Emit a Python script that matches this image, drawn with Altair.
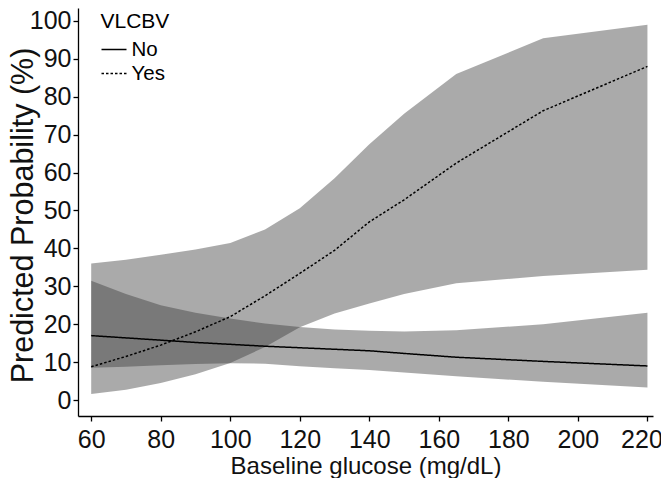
import altair as alt
import pandas as pd

glucose = [60, 70, 80, 90, 100, 110, 120, 130, 140, 150, 165, 190, 220]

no_fit = [17.0, 16.4, 15.8, 15.2, 14.7, 14.2, 13.8, 13.4, 13.0, 12.3, 11.3, 10.2, 9.0]
no_low = [8.5, 8.8, 9.2, 9.5, 9.7, 9.6, 8.9, 8.4, 7.9, 7.3, 6.3, 4.8, 3.3]
no_up = [31.5, 28.0, 25.0, 23.0, 21.5, 20.2, 19.3, 18.6, 18.3, 18.1, 18.4, 20.0, 23.0]

yes_fit = [8.8, 11.5, 14.5, 18.0, 22.0, 27.5, 33.4, 39.5, 47.0, 52.8, 62.5, 76.3, 88.0]
yes_low = [1.6, 2.7, 4.5, 6.8, 9.8, 14.0, 19.2, 22.8, 25.5, 28.0, 30.8, 32.7, 34.4]
yes_up = [36.0, 37.0, 38.3, 39.7, 41.4, 45.0, 50.6, 58.5, 67.5, 75.5, 86.0, 95.4, 99.0]

groups = ["No", "Yes"]

rows = []
for g, fit, lo, up in [("No", no_fit, no_low, no_up), ("Yes", yes_fit, yes_low, yes_up)]:
    for x, f, l, u in zip(glucose, fit, lo, up):
        rows.append({"glucose": x, "VLCBV": g, "fit": f, "lower": l, "upper": u})
df = pd.DataFrame(rows)

FONT = "Liberation Sans"

xscale = alt.Scale(domain=[56.2, 221.6], nice=False, zero=False)
yscale = alt.Scale(domain=[-4.2, 103.4], nice=False, zero=False)

xaxis = alt.Axis(
    title="Baseline glucose (mg/dL)",
    values=[60, 80, 100, 120, 140, 160, 180, 200, 220],
    labelFlush=False, labelOverlap=False, labelPadding=6,
    labelOffset={"condition": {"test": "datum.value == 220", "value": -6}, "value": 0},
    titleY=57, titleBaseline="alphabetic", titleFontSize=24,
)
yaxis = alt.Axis(
    title="Predicted Probability (%)",
    values=list(range(0, 101, 10)),
    labelFlush=False, labelOverlap=False, labelPadding=2,
    titleX=-46, titleY=207, titleAngle=270, titleBaseline="alphabetic",
    titleAlign="center", titleFontSize=30.5,
)

base = alt.Chart(df)

bands = base.mark_area(color="#3b3b3b", opacity=0.43).encode(
    x=alt.X("glucose:Q", scale=xscale, axis=xaxis),
    y=alt.Y("lower:Q", scale=yscale, axis=yaxis),
    y2="upper:Q",
    detail="VLCBV:N",
)

lines = base.mark_line(color="black", strokeWidth=1.5).encode(
    x=alt.X("glucose:Q", scale=xscale),
    y=alt.Y("fit:Q", scale=yscale),
    strokeDash=alt.StrokeDash(
        "VLCBV:N",
        scale=alt.Scale(domain=groups, range=[[1, 0], [2.5, 2]]),
        legend=alt.Legend(
            title="VLCBV", orient="none", legendX=22.5, legendY=3,
            titleFont=FONT, titleFontSize=21, titleFontWeight="normal", titleColor="black",
            titlePadding=4,
            labelFont=FONT, labelFontSize=20.5, labelColor="black", labelOffset=4,
            symbolType="stroke", symbolSize=625, symbolStrokeWidth=1.5,
            symbolStrokeColor="black", symbolOffset=0, rowPadding=0, padding=0,
        ),
    ),
)

chart = alt.layer(bands, lines).properties(
    width=575, height=408,
    autosize=alt.AutoSizeParams(type="none"),
    padding={"left": 70, "top": 0, "right": 8, "bottom": 62},
).configure_view(stroke=None).configure_axis(
    grid=False, domainColor="black", domainWidth=1.3,
    tickColor="black", tickWidth=1.3, tickSize=5,
    labelFont=FONT, labelFontSize=25, labelColor="#111111",
    titleFont=FONT, titleFontWeight="normal", titleColor="#111111",
)

chart.save("out.html", embed_options={"renderer": "svg", "actions": False})
